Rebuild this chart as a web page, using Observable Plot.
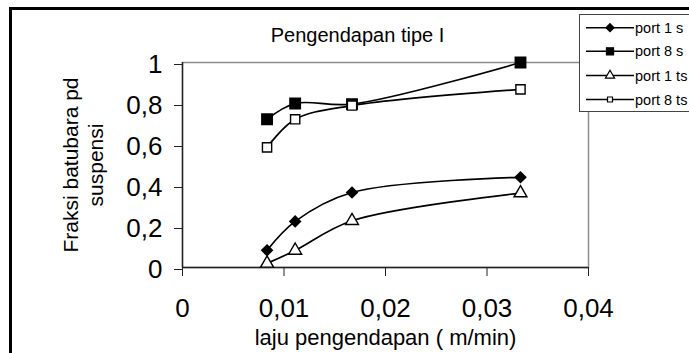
<!DOCTYPE html>
<html><head><meta charset="utf-8">
<script src="https://cdn.jsdelivr.net/npm/d3@7"></script>
<script src="https://cdn.jsdelivr.net/npm/@observablehq/plot@0.6"></script>
<style>
html,body{margin:0;padding:0;background:#fff;}
#chart svg{display:block;}
</style></head><body><div id="chart"></div>
<script>
const title = "Pengendapan tipe I";
const xTitle = "laju pengendapan ( m/min)";
const yTitle = "Fraksi batubara pd\nsuspensi";
const rates = [0.00833, 0.0111, 0.0167, 0.0333];
const port1s = [0.084, 0.225, 0.366, 0.44];
const port8s = [0.723, 0.80, 0.797, 1.0];
const port1ts = [0.02, 0.083, 0.228, 0.363];
const port8ts = [0.586, 0.723, 0.79, 0.869];
const seriesNames = ["port 1 s", "port 8 s", "port 1 ts", "port 8 ts"];
const xTicks = [0, 0.01, 0.02, 0.03, 0.04];
const yTicks = [0, 0.2, 0.4, 0.6, 0.8, 1];

const values = [port1s, port8s, port1ts, port8ts];
const styles = [
  {symbol: "diamond2", d3sym: d3.symbolDiamond2, fill: "black", r: 4.8, lr: 3.6},
  {symbol: "square", d3sym: d3.symbolSquare, fill: "black", r: 5.9, lr: 4.0},
  {symbol: "triangle", d3sym: d3.symbolTriangle, fill: "white", r: 4.8, lr: 3.4},
  {symbol: "square", d3sym: d3.symbolSquare, fill: "white", r: 5.2, lr: 2.8}
];
const rows = seriesNames.flatMap((name, i) => rates.map((x, j) => ({series: name, x, y: values[i][j]})));
const fmt = d => String(d).replace(".", ",");
const font = "'Liberation Sans', Arial, sans-serif";

const chart = Plot.plot({
  width: 689, height: 353,
  marginLeft: 182, marginRight: 101, marginTop: 62, marginBottom: 86,
  x: {domain: [0, 0.04]},
  y: {domain: [0, 1]},
  style: {fontFamily: font, background: "white", color: "black", overflow: "visible"},
  marks: [
    Plot.frame({stroke: "#8c8c8c", strokeWidth: 1.5}),
    Plot.ruleX([0], {stroke: "#222", strokeWidth: 1.4}),
    Plot.ruleY([0], {stroke: "#222", strokeWidth: 1.4}),
    Plot.axisX({ticks: xTicks, tickFormat: fmt, tickSize: 9, tickPadding: 22, fontSize: 26, stroke: "#222", label: null}),
    Plot.axisY({ticks: yTicks, tickFormat: fmt, tickSize: 8, tickPadding: 12, fontSize: 26, dy: 2, stroke: "#222", label: null}),
    ...seriesNames.map(name => Plot.line(rows.filter(d => d.series === name), {x: "x", y: "y", curve: "catmull-rom", stroke: "black", strokeWidth: 1.7})),
    ...seriesNames.map((name, i) => Plot.dot(rows.filter(d => d.series === name), {x: "x", y: "y", symbol: styles[i].symbol, r: styles[i].r, fill: styles[i].fill, stroke: "black", strokeWidth: 1.4})),
    Plot.text([title], {text: d => d, frameAnchor: "top", dx: -28, dy: -27, fontSize: 20, lineAnchor: "middle", textAnchor: "middle"}),
    Plot.text([xTitle], {text: d => d, frameAnchor: "bottom", dy: 70, fontSize: 22, lineAnchor: "middle", textAnchor: "middle"}),
    Plot.text([yTitle], {text: d => d, frameAnchor: "left", rotate: -90, dx: -100, fontSize: 21, lineHeight: 1.2, textAnchor: "middle", lineAnchor: "middle"})
  ]
});

const svg = d3.select(chart);

// legend
const lg = svg.append("g").attr("font-family", font).attr("text-anchor", "start");
lg.append("rect").attr("x", 579.5).attr("y", 14.5).attr("width", 130).attr("height", 97)
  .attr("fill", "white").attr("stroke", "#444").attr("stroke-width", 1);
const rowY = [27.7, 51.3, 75.5, 99.5];
seriesNames.forEach((name, i) => {
  const g = lg.append("g").attr("transform", `translate(0,${rowY[i]})`);
  g.append("line").attr("x1", 586).attr("x2", 634).attr("stroke", "black").attr("stroke-width", 1.6);
  g.append("path").attr("transform", "translate(610,0)")
    .attr("d", d3.symbol(styles[i].d3sym, Math.PI * styles[i].lr * styles[i].lr)())
    .attr("fill", styles[i].fill).attr("stroke", "black").attr("stroke-width", 1.2);
  g.append("text").attr("x", 635).attr("dy", "0.35em").attr("font-size", 14.5).attr("text-anchor", "start").text(name);
});

// outer chart-area border
svg.append("path").attr("d", "M10.5,353 V8.5 H689").attr("fill", "none").attr("stroke", "black").attr("stroke-width", 3);

document.getElementById("chart").appendChild(chart);
</script></body></html>
